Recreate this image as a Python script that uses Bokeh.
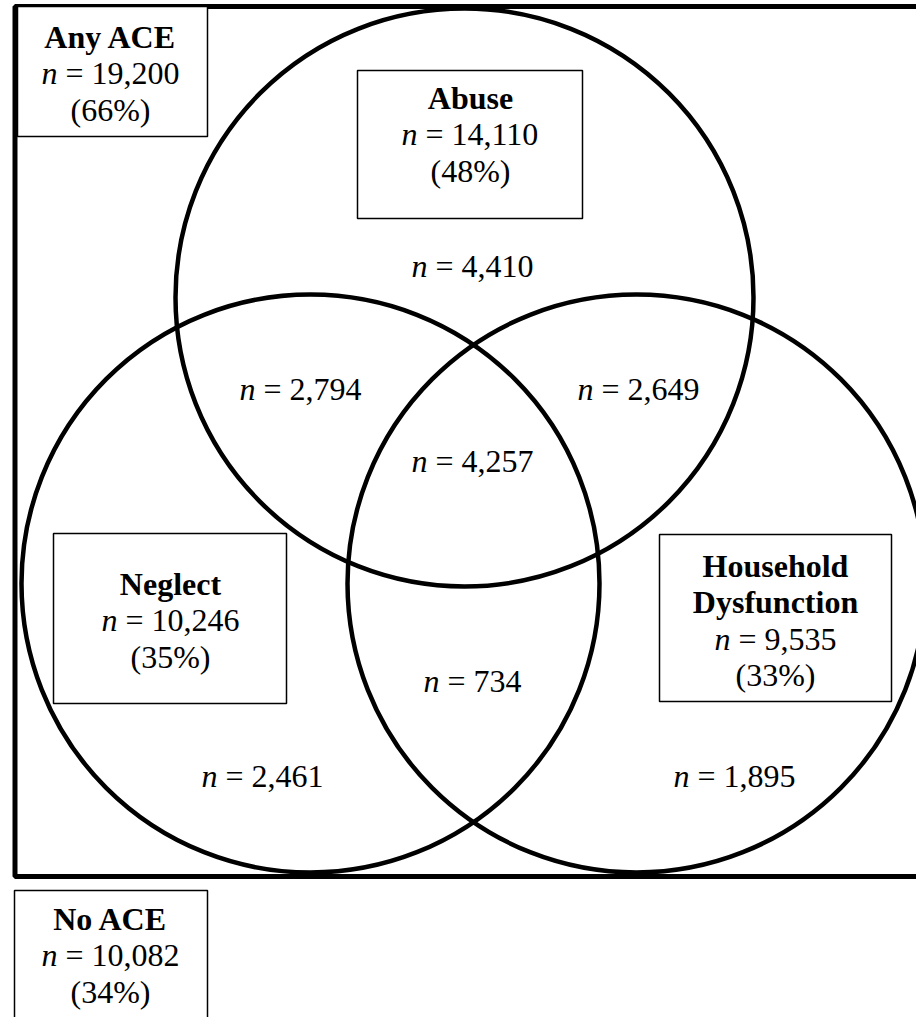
from bokeh.plotting import figure
from bokeh.models import Range1d, ColumnDataSource
from bokeh.embed import file_html
from bokeh.resources import INLINE
from bokeh.core.properties import value

# ---------------- data ----------------
set_titles = [["Abuse"], ["Neglect"], ["Household", "Dysfunction"]]
set_n = [14110, 10246, 9535]
set_pct = [48, 35, 33]

total_titles = [["Any ACE"], ["No ACE"]]
total_n = [19200, 10082]
total_pct = [66, 34]

region_names = ["Abuse only", "Abuse+Neglect", "Abuse+HD", "All three",
                "Neglect+HD", "Neglect only", "HD only"]
region_n = [4410, 2794, 2649, 4257, 734, 2461, 1895]

# ---------------- layout (page pixel coordinates) ----------------
FONT = "Liberation Serif"
FS = 32
circle_x = [464, 310, 636]
circle_y = [297, 583, 583]
circle_r = 289

# boxes: left, right, top, bottom ; text centre x ; first text line position
set_boxes = [(357, 582, 70, 218, 470, 97),
             (53, 286, 533, 703, 170, 583),
             (659, 891, 534, 701, 775, 565)]
total_boxes = [(17, 207, 6, 136, 110, 36),
               (14, 207, 890, 1040, 110, 918)]
region_pos = [(472, 265), (300, 388), (638, 388), (472, 460),
              (472, 680), (262, 775), (734, 775)]
LINE = 36.5

# Times / Liberation Serif advance widths (per 1000 em)
W = {" ": 250, "=": 564, ",": 250, "(": 333, ")": 333, "%": 833}
for d in "0123456789":
    W[d] = 500
N_ITALIC = 500


def width(s):
    return sum(W.get(c, 500) for c in s) * FS / 1000.0


p = figure(width=916, height=1017, x_range=Range1d(0, 916), y_range=Range1d(1017, 0),
           output_backend="svg", toolbar_location=None, min_border=0)
p.axis.visible = False
p.grid.visible = False
p.outline_line_color = None
p.background_fill_color = "white"
p.border_fill_color = "white"

# outer "Any ACE" frame
p.quad(left=[14.5], right=[940], top=[6], bottom=[876], fill_color=None,
       line_color="black", line_width=5)

# circles
p.circle(x=circle_x, y=circle_y, radius=circle_r, fill_color=None,
         line_color="black", line_width=4.5)

bold = dict(x=[], y=[], t=[])
ital = dict(x=[], y=[], t=[])
reg = dict(x=[], y=[], t=[])
boxes = dict(l=[], r=[], t=[], b=[])


def n_line(cx, y, n):
    rest = "= " + f"{n:,}"
    wn = N_ITALIC * FS / 1000.0
    wsp = W[" "] * FS / 1000.0
    total = wn + wsp + width(rest)
    start = cx - total / 2.0
    ital["x"].append(start); ital["y"].append(y); ital["t"].append("n")
    reg["x"].append(start + wn + wsp); reg["y"].append(y); reg["t"].append(rest)


def pct_line(cx, y, pct):
    s = f"({pct}%)"
    reg["x"].append(cx - width(s) / 2.0); reg["y"].append(y); reg["t"].append(s)


def label_box(box, titles, n, pct):
    l, r, t, b, cx, y0 = box
    boxes["l"].append(l); boxes["r"].append(r); boxes["t"].append(t); boxes["b"].append(b)
    y = y0
    for tt in titles:
        bold["x"].append(cx); bold["y"].append(y); bold["t"].append(tt)
        y += LINE
    n_line(cx, y, n)
    y += LINE
    pct_line(cx, y, pct)


for box, tt, n, pc in zip(set_boxes, set_titles, set_n, set_pct):
    label_box(box, tt, n, pc)
for box, tt, n, pc in zip(total_boxes, total_titles, total_n, total_pct):
    label_box(box, tt, n, pc)
for (cx, y), n in zip(region_pos, region_n):
    n_line(cx, y, n)

p.quad(left="l", right="r", top="t", bottom="b", source=ColumnDataSource(boxes),
       fill_color="white", line_color="black", line_width=1.5)

p.text(x="x", y="y", text="t", source=ColumnDataSource(bold), text_font=value(FONT),
       text_font_size=f"{FS}px", text_font_style="bold", text_align="center",
       text_baseline="alphabetic", text_color="black")
p.text(x="x", y="y", text="t", source=ColumnDataSource(ital), text_font=value(FONT),
       text_font_size=f"{FS}px", text_font_style="italic", text_align="left",
       text_baseline="alphabetic", text_color="black")
p.text(x="x", y="y", text="t", source=ColumnDataSource(reg), text_font=value(FONT),
       text_font_size=f"{FS}px", text_align="left",
       text_baseline="alphabetic", text_color="black")

open("out.html", "w").write(file_html(p, INLINE))
